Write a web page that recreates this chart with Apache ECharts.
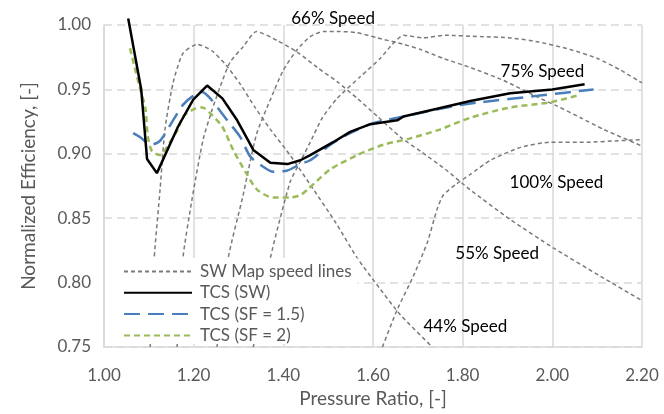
<!DOCTYPE html>
<html>
<head>
<meta charset="utf-8">
<script src="https://cdn.jsdelivr.net/npm/echarts@6/dist/echarts.min.js"></script>
<style>
  html, body { margin: 0; padding: 0; background: #ffffff; }
  #chart { width: 664px; height: 414px; }
</style>
</head>
<body>
<div id="chart"></div>
<script>
// Axis ranges and ticks
const xMin = 1.0, xMax = 2.2, xStep = 0.2;
const yMin = 0.75, yMax = 1.0, yStep = 0.05;

// SW compressor map speed lines: [pressure ratio, normalized efficiency]
const sw44 = [
  [1.103, 0.750], [1.112, 0.819], [1.125, 0.872], [1.136, 0.919], [1.154, 0.955],
  [1.176, 0.978], [1.208, 0.985], [1.241, 0.980], [1.272, 0.969], [1.304, 0.954],
  [1.337, 0.936], [1.371, 0.919], [1.415, 0.899], [1.460, 0.876], [1.516, 0.847],
  [1.565, 0.819], [1.616, 0.795], [1.661, 0.775], [1.732, 0.750]
];
const sw55 = [
  [1.163, 0.750], [1.176, 0.819], [1.196, 0.864], [1.221, 0.911], [1.241, 0.934],
  [1.259, 0.952], [1.281, 0.971], [1.310, 0.983], [1.340, 0.995], [1.386, 0.988],
  [1.431, 0.979], [1.476, 0.967], [1.520, 0.956], [1.565, 0.943], [1.610, 0.929],
  [1.661, 0.913], [1.706, 0.902], [1.761, 0.888], [1.817, 0.872], [1.906, 0.849],
  [2.002, 0.827], [2.107, 0.805], [2.200, 0.786]
];
const sw66 = [
  [1.252, 0.750], [1.277, 0.819], [1.309, 0.866], [1.340, 0.915], [1.371, 0.942],
  [1.400, 0.965], [1.431, 0.981], [1.460, 0.991], [1.489, 0.995], [1.520, 0.995],
  [1.565, 0.994], [1.610, 0.990], [1.668, 0.985], [1.706, 0.981], [1.757, 0.974],
  [1.817, 0.967], [1.891, 0.957], [1.967, 0.944], [2.011, 0.937], [2.063, 0.928],
  [2.114, 0.919], [2.200, 0.906]
];
const sw75 = [
  [1.333, 0.750], [1.371, 0.819], [1.415, 0.878], [1.438, 0.894], [1.460, 0.909],
  [1.487, 0.928], [1.520, 0.943], [1.572, 0.960], [1.616, 0.974], [1.643, 0.985],
  [1.668, 0.992], [1.712, 0.990], [1.761, 0.992], [1.840, 0.991], [1.906, 0.990],
  [1.967, 0.987], [2.040, 0.981], [2.101, 0.974], [2.152, 0.965], [2.200, 0.955]
];
const sw100 = [
  [1.621, 0.750], [1.654, 0.779], [1.690, 0.805], [1.721, 0.831], [1.743, 0.857],
  [1.757, 0.868], [1.784, 0.876], [1.817, 0.884], [1.862, 0.895], [1.929, 0.905],
  [1.996, 0.909], [2.078, 0.909], [2.141, 0.910], [2.197, 0.911]
];

// Through-flow compressor simulation results
const tcsSW = [
  [1.054, 1.005], [1.083, 0.950], [1.096, 0.896], [1.118, 0.885], [1.165, 0.921],
  [1.199, 0.942], [1.230, 0.953], [1.264, 0.943], [1.297, 0.926], [1.319, 0.912],
  [1.333, 0.903], [1.371, 0.893], [1.409, 0.892], [1.438, 0.895], [1.460, 0.899],
  [1.511, 0.909], [1.549, 0.917], [1.594, 0.923], [1.654, 0.926], [1.668, 0.929],
  [1.743, 0.935], [1.817, 0.941], [1.906, 0.947], [2.000, 0.950], [2.072, 0.954]
];
const tcsSF15 = [
  [1.065, 0.916], [1.080, 0.913], [1.105, 0.907], [1.125, 0.910], [1.154, 0.926],
  [1.176, 0.938], [1.199, 0.945], [1.219, 0.948], [1.237, 0.943], [1.275, 0.926],
  [1.304, 0.913], [1.326, 0.898], [1.355, 0.890], [1.377, 0.886], [1.409, 0.887],
  [1.438, 0.892], [1.460, 0.895], [1.505, 0.907], [1.543, 0.915], [1.594, 0.923],
  [1.668, 0.929], [1.779, 0.937], [1.839, 0.940], [1.967, 0.945], [2.092, 0.950]
];
const tcsSF2 = [
  [1.058, 0.982], [1.080, 0.951], [1.092, 0.936], [1.098, 0.913], [1.107, 0.902],
  [1.125, 0.899], [1.147, 0.909], [1.165, 0.919], [1.176, 0.929], [1.203, 0.935],
  [1.219, 0.936], [1.241, 0.930], [1.264, 0.921], [1.288, 0.903], [1.319, 0.884],
  [1.342, 0.872], [1.377, 0.866], [1.415, 0.866], [1.438, 0.868], [1.453, 0.872],
  [1.505, 0.888], [1.565, 0.899], [1.623, 0.907], [1.683, 0.912], [1.750, 0.919],
  [1.817, 0.928], [1.906, 0.936], [1.996, 0.940], [2.063, 0.946]
];

// Speed line annotations: [text, pressure ratio, efficiency] at the text centre
const speedLabels = [
  ['66% Speed', 1.511, 1.005],
  ['75% Speed', 1.978, 0.9635],
  ['100% Speed', 2.009, 0.8775],
  ['55% Speed', 1.877, 0.8225],
  ['44% Speed', 1.806, 0.7660]
];

const mapName = 'SW Map speed lines';
const legendNames = [mapName, 'TCS (SW)', 'TCS (SF = 1.5)', 'TCS (SF = 2)'];

const FONT = 'Lato';
const TEXT_GREY = '#595959';
const GRID_GREY = '#d9d9d9';

function speedLine(data) {
  return {
    type: 'line', name: mapName, data: data, symbol: 'none', smooth: 0.2,
    lineStyle: { color: '#7a7a7a', width: 1.5, type: [4, 3] },
    itemStyle: { color: '#7a7a7a' }, z: 2
  };
}

const chart = echarts.init(document.getElementById('chart'), null, { renderer: 'canvas' });

chart.setOption({
  animation: false,
  backgroundColor: '#ffffff',
  textStyle: { fontFamily: FONT },
  grid: { left: 104, right: 22, top: 25, bottom: 67, containLabel: false },
  xAxis: {
    type: 'value', min: xMin, max: xMax, interval: xStep,
    name: 'Pressure Ratio, [-]', nameLocation: 'middle', nameGap: 42,
    nameTextStyle: { color: TEXT_GREY, fontSize: 19, fontFamily: FONT },
    axisLine: { show: true, lineStyle: { color: GRID_GREY, width: 1.5 } },
    axisTick: { show: false },
    axisLabel: { color: TEXT_GREY, fontSize: 17, margin: 20, fontFamily: FONT,
      formatter: v => v.toFixed(2) },
    splitLine: { show: true, lineStyle: { color: GRID_GREY, width: 1.5, type: 'solid' } }
  },
  yAxis: {
    type: 'value', min: yMin, max: yMax, interval: yStep,
    name: 'Normalized Efficiency, [-]', nameLocation: 'middle', nameGap: 66,
    nameTextStyle: { color: TEXT_GREY, fontSize: 19, fontFamily: FONT },
    axisLine: { show: true, lineStyle: { color: GRID_GREY, width: 1.5 } },
    axisTick: { show: false },
    axisLabel: { color: TEXT_GREY, fontSize: 17, margin: 13, fontFamily: FONT,
      formatter: v => v.toFixed(2) },
    splitLine: { show: true, lineStyle: { color: GRID_GREY, width: 1.5, type: [8, 5] } }
  },
  legend: {
    data: legendNames,
    orient: 'vertical',
    left: 105, top: 258,
    padding: [5, 6, 0, 18],
    itemWidth: 68, itemHeight: 14, itemGap: 4.3,
    itemStyle: { opacity: 0 },
    backgroundColor: '#ffffff',
    textStyle: { color: TEXT_GREY, fontSize: 17, lineHeight: 16, fontFamily: FONT,
      padding: [0, 0, 0, 3] },
    selectedMode: false,
    z: 10
  },
  series: [
    speedLine(sw44), speedLine(sw55), speedLine(sw66), speedLine(sw75), speedLine(sw100),
    {
      type: 'line', name: 'TCS (SW)', data: tcsSW, symbol: 'none', smooth: false, clip: false,
      lineStyle: { color: '#000000', width: 2.5, type: 'solid' },
      itemStyle: { color: '#000000' }, z: 5
    },
    {
      type: 'line', name: 'TCS (SF = 1.5)', data: tcsSF15, symbol: 'none', smooth: 0.25,
      lineStyle: { color: '#4a7ebb', width: 2.5, type: [16, 8] },
      itemStyle: { color: '#4a7ebb' }, z: 4
    },
    {
      type: 'line', name: 'TCS (SF = 2)', data: tcsSF2, symbol: 'none', smooth: 0.25,
      lineStyle: { color: '#9bbb59', width: 2.5, type: [6, 4] },
      itemStyle: { color: '#9bbb59' }, z: 3
    }
  ]
});

// Place the speed annotations at their data positions
const labelGraphics = speedLabels.map(([text, x, y]) => {
  const p = chart.convertToPixel({ gridIndex: 0 }, [x, y]);
  return {
    type: 'text', x: p[0], y: p[1], z: 20,
    style: { text: text, fill: '#000000', fontSize: 17, fontFamily: FONT,
      align: 'center', verticalAlign: 'middle' }
  };
});
chart.setOption({ graphic: labelGraphics });
</script>
</body>
</html>
